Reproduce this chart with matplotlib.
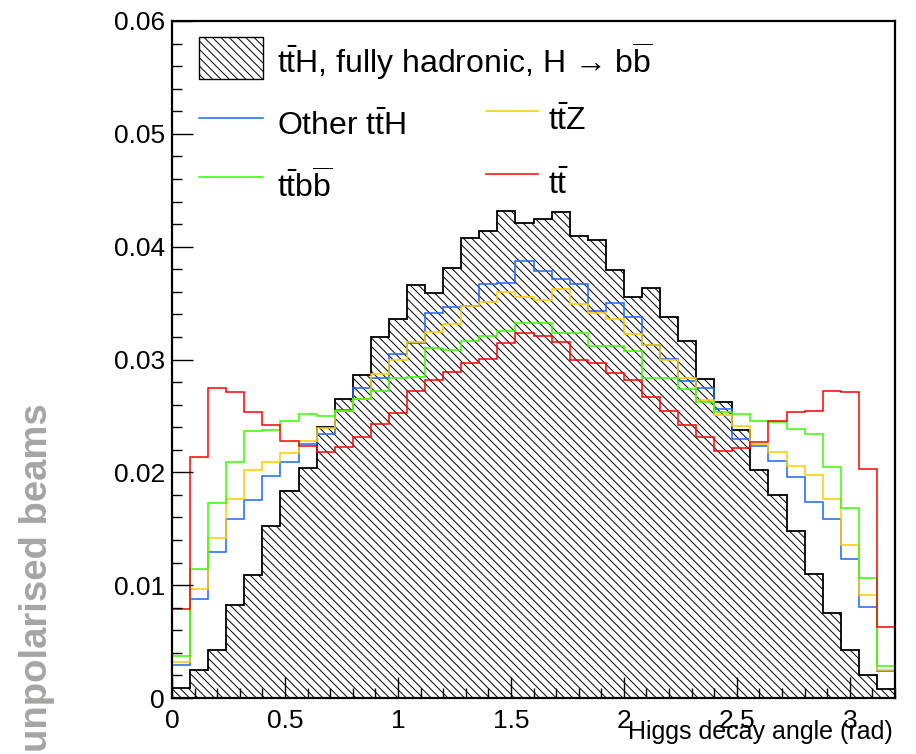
import numpy as np
import matplotlib
matplotlib.use('Agg')
import matplotlib.pyplot as plt
from matplotlib.patches import Rectangle
from matplotlib.ticker import MultipleLocator

plt.rcParams['font.family'] = ['Liberation Sans', 'DejaVu Sans']
plt.rcParams['mathtext.fontset'] = 'custom'
plt.rcParams['mathtext.rm'] = 'Liberation Sans'
plt.rcParams['mathtext.it'] = 'Liberation Sans:italic'
plt.rcParams['hatch.linewidth'] = 0.7

# 40 bins of 0.08 rad
edges = np.linspace(0, 3.2, 41)

tth_had = [0.00089, 0.0025, 0.00422, 0.00824, 0.01092, 0.01523, 0.01836, 0.02036, 0.02402, 0.02654,
           0.02866, 0.03196, 0.03363, 0.03661, 0.03592, 0.03809, 0.04074, 0.04137, 0.04315, 0.04211,
           0.04245, 0.04306, 0.04098, 0.04062, 0.03797, 0.03556, 0.0363, 0.03375, 0.0316, 0.02824,
           0.02619, 0.02378, 0.02023, 0.01797, 0.01479, 0.01101, 0.0075, 0.00429, 0.00205, 0.0008]
other_tth = [0.00291, 0.00875, 0.01291, 0.01589, 0.01755, 0.0197, 0.02095, 0.02253, 0.02336, 0.0255,
             0.02744, 0.02833, 0.03053, 0.0315, 0.03413, 0.03464, 0.0347, 0.03666, 0.03675, 0.03869,
             0.03788, 0.03717, 0.03666, 0.03428, 0.03503, 0.03373, 0.0313, 0.03005, 0.02812, 0.0275,
             0.02565, 0.02297, 0.02232, 0.02104, 0.01955, 0.01738, 0.01583, 0.01232, 0.00809, 0.00235]
ttz = [0.00315, 0.00967, 0.0142, 0.01768, 0.02023, 0.02089, 0.0217, 0.02282, 0.02396, 0.02541,
       0.02646, 0.02871, 0.02994, 0.03154, 0.03241, 0.03315, 0.0347, 0.03509, 0.03601, 0.03554,
       0.03523, 0.03628, 0.03494, 0.03411, 0.03363, 0.03226, 0.0313, 0.03, 0.02833, 0.02639,
       0.02508, 0.02407, 0.02253, 0.02179, 0.02059, 0.01976, 0.01768, 0.01354, 0.00911, 0.0025]
ttbb = [0.00369, 0.01143, 0.01732, 0.02095, 0.02366, 0.02375, 0.02452, 0.02518, 0.025, 0.0254,
        0.02648, 0.02723, 0.02833, 0.02845, 0.031, 0.03086, 0.03161, 0.03205, 0.03255, 0.03327,
        0.03327, 0.03235, 0.03235, 0.03122, 0.03122, 0.03077, 0.02833, 0.02839, 0.02735, 0.02619,
        0.02536, 0.0252, 0.02452, 0.02446, 0.02387, 0.02339, 0.0205, 0.01688, 0.01062, 0.00288]
tt = [0.00786, 0.02134, 0.02744, 0.02714, 0.02536, 0.02422, 0.0228, 0.02232, 0.02184, 0.02223,
      0.02313, 0.02431, 0.02527, 0.02723, 0.02818, 0.02887, 0.02973, 0.03005, 0.03146, 0.03235,
      0.0321, 0.03154, 0.03, 0.02973, 0.02878, 0.02818, 0.0267, 0.02545, 0.0242, 0.02313,
      0.02186, 0.02214, 0.02273, 0.02452, 0.02536, 0.02541, 0.0272, 0.02708, 0.0203, 0.0063]

col_blue = '#1a66ff'
col_yellow = '#ffcc00'
col_green = '#33ff00'
col_red = '#ff0000'
hatch = '\\\\\\\\'

fig = plt.figure(figsize=(9.16, 7.54), dpi=100)
ax = fig.add_axes([172/916, 56/754, 723/916, 677/754])

ax.stairs(tth_had, edges, fill=True, facecolor='white', edgecolor='black',
          hatch=hatch, linewidth=1.3)
ax.stairs(other_tth, edges, color=col_blue, linewidth=1.1)
ax.stairs(ttz, edges, color=col_yellow, linewidth=1.1)
ax.stairs(ttbb, edges, color=col_green, linewidth=1.1)
ax.stairs(tt, edges, color=col_red, linewidth=1.1)

ax.set_xlim(0, 3.2)
ax.set_ylim(0, 0.06)
ax.xaxis.set_major_locator(MultipleLocator(0.5))
ax.xaxis.set_minor_locator(MultipleLocator(0.1))
ax.yaxis.set_major_locator(MultipleLocator(0.01))
ax.yaxis.set_minor_locator(MultipleLocator(0.002))
ax.xaxis.set_major_formatter(lambda v, p: '%g' % round(v, 3))
ax.yaxis.set_major_formatter(lambda v, p: '%g' % round(v, 4))
ax.tick_params(which='both', direction='in', top=False, right=False, width=1.0, labelsize=19)
ax.tick_params(which='major', length=15)
ax.tick_params(which='minor', length=7)
ax.tick_params(axis='y', pad=5)
ax.tick_params(axis='x', pad=8)
for s in ax.spines.values():
    s.set_linewidth(1.6)

# legend (ROOT style, drawn by hand)
lfs = 23
tr = ax.transAxes
ax.add_patch(Rectangle((0.0373, 0.9143), 0.0886, 0.0621, transform=tr, facecolor='white',
                       edgecolor='black', hatch=hatch, linewidth=1.0))
ax.text(0.1452, 0.9227, r'$\mathrm{t\bar{t}H}$, fully hadronic, H → $\mathrm{b\overline{b}}$',
        transform=tr, fontsize=lfs, va='baseline')
ax.plot([0.0373, 0.1259], [0.8567, 0.8567], transform=tr, color=col_blue, linewidth=1.1)
ax.text(0.1452, 0.8316, r'Other $\mathrm{t\bar{t}H}$', transform=tr, fontsize=lfs, va='baseline')
ax.plot([0.4343, 0.5062], [0.8671, 0.8671], transform=tr, color=col_yellow, linewidth=1.1)
ax.text(0.5201, 0.839, r'$\mathrm{t\bar{t}Z}$', transform=tr, fontsize=lfs, va='baseline')
ax.plot([0.0373, 0.1259], [0.7696, 0.7696], transform=tr, color=col_green, linewidth=1.1)
ax.text(0.1452, 0.738, r'$\mathrm{t\bar{t}b\overline{b}}$', transform=tr, fontsize=lfs, va='baseline')
ax.plot([0.4343, 0.5062], [0.774, 0.774], transform=tr, color=col_red, linewidth=1.1)
ax.text(0.5201, 0.7445, r'$\mathrm{t\bar{t}}$', transform=tr, fontsize=lfs, va='baseline')

fig.text(893/916, 15/754, 'Higgs decay angle (rad)', ha='right', va='baseline', fontsize=18)
fig.text(37/916, (754-403)/754, 'unpolarised beams', rotation=90, ha='center', va='top',
         fontsize=27.5, fontweight='bold', color='#a3a6a3')

fig.savefig('out.png', dpi=100)
